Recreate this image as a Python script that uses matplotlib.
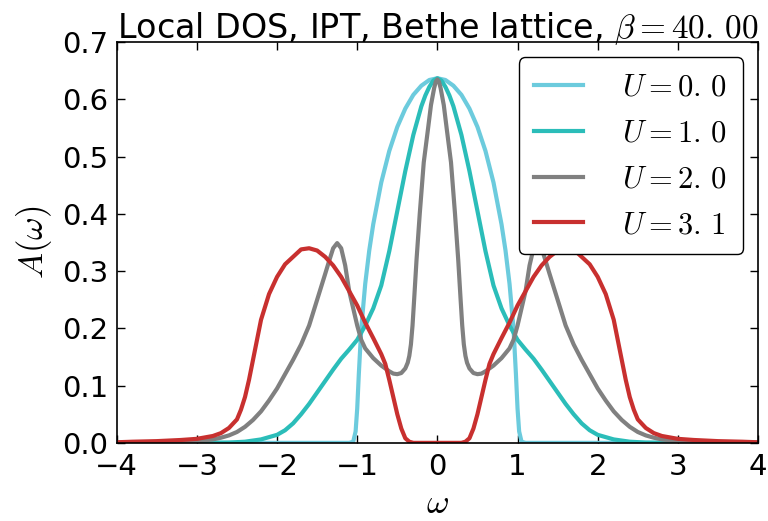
import matplotlib
matplotlib.use("Agg")
import matplotlib.pyplot as plt
import numpy as np

plt.rcParams['font.family'] = 'DejaVu Sans'
plt.rcParams['mathtext.fontset'] = 'cm'

# valores leidos para w >= 0 (las curvas son simetricas)
w_u0 = [0.0, 0.1, 0.2, 0.3, 0.4, 0.5, 0.6, 0.7, 0.8, 0.85, 0.9, 0.95, 0.98, 1.0,
        1.02, 1.05, 1.1, 4.0]
a_u0 = [0.637, 0.634, 0.624, 0.608, 0.584, 0.552, 0.510, 0.455, 0.382, 0.336,
        0.278, 0.199, 0.12, 0.06, 0.02, 0.002, 0.0, 0.0]

w_u1 = [0.0, 0.05, 0.1, 0.15, 0.2, 0.3, 0.4, 0.5, 0.6, 0.7, 0.8, 0.9, 1.0, 1.1,
        1.2, 1.3, 1.4, 1.5, 1.6, 1.7, 1.8, 1.9, 2.0, 2.2, 2.4, 2.6, 3.0, 4.0]
a_u1 = [0.637, 0.633, 0.622, 0.607, 0.588, 0.538, 0.475, 0.405, 0.335, 0.275,
        0.235, 0.205, 0.18, 0.163, 0.147, 0.128, 0.108, 0.088, 0.068, 0.05,
        0.034, 0.022, 0.014, 0.006, 0.002, 0.0005, 0.0, 0.0]

w_u2 = [0.0, 0.02, 0.04, 0.08, 0.12, 0.17, 0.22, 0.26, 0.29, 0.31, 0.33, 0.35,
        0.37, 0.4, 0.45, 0.5, 0.55, 0.6, 0.7, 0.8, 0.9, 0.95, 1.0, 1.05, 1.1,
        1.15, 1.2, 1.25, 1.3, 1.35, 1.4, 1.5, 1.6, 1.7, 1.8, 1.9, 2.0, 2.1, 2.2,
        2.3, 2.4, 2.5, 2.6, 2.7, 2.8, 3.0, 3.5, 4.0]
a_u2 = [0.635, 0.631, 0.62, 0.59, 0.545, 0.49, 0.40, 0.32, 0.25, 0.205, 0.172,
        0.152, 0.14, 0.13, 0.122, 0.12, 0.121, 0.125, 0.135, 0.148, 0.165, 0.18,
        0.205, 0.235, 0.265, 0.31, 0.34, 0.349, 0.34, 0.318, 0.295, 0.25, 0.205,
        0.172, 0.145, 0.12, 0.095, 0.074, 0.055, 0.04, 0.028, 0.019, 0.013,
        0.009, 0.006, 0.003, 0.0005, 0.0]

w_u3 = [0.0, 0.3, 0.35, 0.4, 0.45, 0.5, 0.55, 0.6, 0.65, 0.7, 0.8, 0.9, 1.0, 1.1,
        1.2, 1.3, 1.4, 1.5, 1.6, 1.7, 1.8, 1.9, 2.0, 2.1, 2.2, 2.25, 2.3, 2.35,
        2.4, 2.45, 2.5, 2.6, 2.7, 2.8, 3.0, 3.2, 3.5, 3.8, 4.0]
a_u3 = [0.0, 0.0, 0.002, 0.008, 0.025, 0.05, 0.08, 0.11, 0.138, 0.155, 0.183,
        0.21, 0.24, 0.265, 0.29, 0.31, 0.325, 0.336, 0.34, 0.338, 0.325, 0.312,
        0.29, 0.26, 0.215, 0.18, 0.145, 0.11, 0.08, 0.058, 0.041, 0.026, 0.017,
        0.012, 0.007, 0.005, 0.003, 0.002, 0.001]

curvas = [(w_u0, a_u0, '#6ccbdd', r'$U=0.\,0$'),
          (w_u1, a_u1, '#2bbdb9', r'$U=1.\,0$'),
          (w_u2, a_u2, '#808080', r'$U=2.\,0$'),
          (w_u3, a_u3, '#c8302f', r'$U=3.\,1$')]


def simetrica(w, a):
    w = np.asarray(w)
    a = np.asarray(a)
    return np.concatenate([-w[::-1], w[1:]]), np.concatenate([a[::-1], a[1:]])


fig = plt.figure(figsize=(7.68, 5.21), dpi=100)
ax = fig.add_axes([0.152, 0.150, 0.835, 0.769])

for w, a, color, label in curvas:
    x, y = simetrica(w, a)
    ax.plot(x, y, color=color, lw=3, label=label)

ax.set_xlim(-4, 4)
ax.set_ylim(0, 0.7)
ax.set_xticks(range(-4, 5))
ax.set_yticks(np.arange(0, 0.71, 0.1))
ax.set_yticklabels([f'{v:.1f}' for v in np.arange(0, 0.71, 0.1)])
ax.tick_params(direction='in', top=True, right=True, labelsize=21, length=6, width=1)
ax.tick_params(axis='x', pad=7)
ax.tick_params(axis='y', pad=6)
for s in ax.spines.values():
    s.set_linewidth(1.2)

ax.set_xlabel(r'$\omega$', fontsize=25, labelpad=4)
ax.set_ylabel(r'$A(\omega)$', fontsize=25, labelpad=6)
ax.set_title(r'Local DOS, IPT, Bethe lattice, $\beta=40.\,00$', fontsize=24, pad=3)

leg = ax.legend(loc='upper right', fontsize=22, frameon=True, fancybox=True,
                framealpha=1, edgecolor='black', handlelength=1.6,
                handletextpad=1.3, labelspacing=0.55, borderpad=0.5)
leg.get_frame().set_linewidth(1.0)

fig.savefig('out.png', dpi=100)
